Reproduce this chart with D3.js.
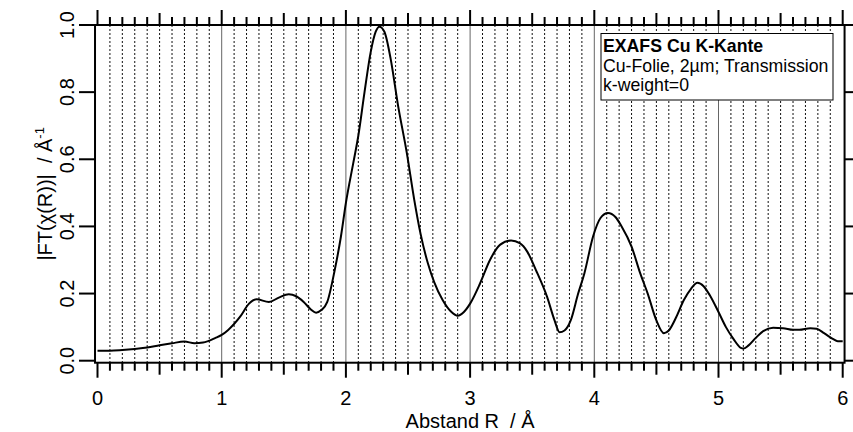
<!DOCTYPE html>
<html>
<head>
<meta charset="utf-8">
<script src="https://cdn.jsdelivr.net/npm/d3@7"></script>
<style>
  body { margin: 0; background: #fff; }
  text { font-family: "Liberation Sans", Arial, sans-serif; fill: #000; white-space: pre; }
</style>
</head>
<body>
<svg id="chart" width="853" height="432"></svg>
<script>
// Abstand R (Å) and |FT(chi(R))|
const rValues = [0.00, 0.10, 0.20, 0.30, 0.40, 0.50, 0.60, 0.70, 0.78, 0.85, 0.95, 1.00, 1.05, 1.15, 1.22,
  1.28, 1.38, 1.46, 1.54, 1.60, 1.66, 1.72, 1.76, 1.80, 1.85, 1.91, 1.96, 2.00, 2.06, 2.10, 2.15, 2.20,
  2.24, 2.27, 2.31, 2.36, 2.42, 2.49, 2.55, 2.60, 2.66, 2.71, 2.78, 2.85, 2.90, 2.95, 3.00, 3.08, 3.16,
  3.24, 3.33, 3.40, 3.46, 3.53, 3.62, 3.68, 3.72, 3.76, 3.81, 3.87, 3.92, 3.99, 4.05, 4.11, 4.17, 4.22,
  4.30, 4.37, 4.43, 4.50, 4.56, 4.60, 4.66, 4.72, 4.78, 4.83, 4.88, 4.93, 5.00, 5.06, 5.12, 5.18, 5.20,
  5.24, 5.30, 5.36, 5.44, 5.52, 5.60, 5.65, 5.74, 5.79, 5.85, 5.92, 5.96, 6.00];
const ftValues = [0.030, 0.030, 0.032, 0.035, 0.039, 0.046, 0.052, 0.057, 0.052, 0.054, 0.068, 0.077, 0.091, 0.132, 0.170,
  0.183, 0.175, 0.188, 0.198, 0.192, 0.175, 0.152, 0.143, 0.150, 0.175, 0.27, 0.37, 0.47, 0.59, 0.67, 0.80, 0.92,
  0.98, 0.995, 0.98, 0.90, 0.76, 0.62, 0.48, 0.38, 0.29, 0.235, 0.18, 0.145, 0.134, 0.145, 0.170, 0.23, 0.30,
  0.345, 0.358, 0.35, 0.325, 0.27, 0.19, 0.12, 0.085, 0.09, 0.12, 0.20, 0.26, 0.37, 0.425, 0.440, 0.428, 0.40,
  0.34, 0.26, 0.20, 0.12, 0.082, 0.09, 0.13, 0.18, 0.215, 0.232, 0.222, 0.195, 0.145, 0.10, 0.065, 0.038, 0.036,
  0.045, 0.068, 0.088, 0.098, 0.097, 0.092, 0.092, 0.097, 0.095, 0.082, 0.065, 0.058, 0.058];

const xTickValues = [0, 1, 2, 3, 4, 5, 6];
const yTickValues = [0, 0.2, 0.4, 0.6, 0.8, 1.0];
const legendLines = ["EXAFS Cu K-Kante", "Cu-Folie, 2µm; Transmission", "k-weight=0"];

const svg = d3.select("#chart");

const x = d3.scaleLinear().domain([0, 6]).range([97.5, 842.7]);
const y = d3.scaleLinear().domain([0, 1]).range([360.7, 25]);

// frame edges, slightly outside the data range like the original
const plotLeft = x(-0.02), plotRight = x(6.015), plotTop = y(1), plotBottom = y(-0.006);

// minor positions every 0.1
const minorX = d3.range(1, 60).map(i => i / 10);
const isMajor = d => Math.round(d * 10) % 10 === 0;

// vertical grid
svg.append("g")
  .selectAll("line")
  .data(minorX)
  .join("line")
  .attr("x1", d => x(d)).attr("x2", d => x(d))
  .attr("y1", plotTop).attr("y2", plotBottom)
  .attr("stroke", d => isMajor(d) ? "#666" : "#111")
  .attr("stroke-width", 1)
  .attr("stroke-dasharray", d => isMajor(d) ? null : "2,2");

// curve
const line = d3.line()
  .x((d, i) => x(rValues[i]))
  .y(d => y(d))
  .curve(d3.curveMonotoneX);

svg.append("path")
  .datum(ftValues)
  .attr("d", line)
  .attr("fill", "none")
  .attr("stroke", "#000")
  .attr("stroke-width", 2);

// legend box
const legend = svg.append("g");
legend.append("rect")
  .attr("x", 601).attr("y", 33.5)
  .attr("width", 232).attr("height", 66.5)
  .attr("fill", "#fff").attr("stroke", "#000").attr("stroke-width", 1);
legend.selectAll("text")
  .data(legendLines)
  .join("text")
  .attr("x", 603)
  .attr("y", (d, i) => 52 + i * 19.5)
  .style("font-size", "17.7px")
  .style("font-weight", (d, i) => i === 0 ? "bold" : "normal")
  .text(d => d);

// frame
const frame = svg.append("g").attr("stroke", "#000").attr("stroke-width", 2).attr("fill", "none");
frame.append("rect")
  .attr("x", plotLeft).attr("y", plotTop)
  .attr("width", plotRight - plotLeft).attr("height", plotBottom - plotTop);

// x ticks (bottom outward, top outward)
const tickLen = d => {
  const t = Math.round(d * 10);
  return t % 10 === 0 ? 15 : (t % 5 === 0 ? 12 : 8);
};
const allX = d3.range(0, 61).map(i => i / 10);
frame.append("g").selectAll("line")
  .data(allX).join("line")
  .attr("x1", d => x(d)).attr("x2", d => x(d))
  .attr("y1", plotBottom).attr("y2", d => plotBottom + tickLen(d));
frame.append("g").selectAll("line")
  .data(allX).join("line")
  .attr("x1", d => x(d)).attr("x2", d => x(d))
  .attr("y1", plotTop).attr("y2", d => plotTop - tickLen(d));

// y ticks: left long, right short
frame.append("g").selectAll("line")
  .data(yTickValues).join("line")
  .attr("x1", plotLeft).attr("x2", plotLeft - 16)
  .attr("y1", d => y(d)).attr("y2", d => y(d));
frame.append("g").selectAll("line")
  .data(yTickValues).join("line")
  .attr("x1", plotRight).attr("x2", plotRight + 9)
  .attr("y1", d => y(d)).attr("y2", d => y(d));

// tick labels
svg.append("g").selectAll("text")
  .data(xTickValues).join("text")
  .attr("x", d => x(d)).attr("y", 405)
  .attr("text-anchor", "middle")
  .style("font-size", "20px")
  .text(d => d);

svg.append("g").selectAll("text")
  .data(yTickValues).join("text")
  .attr("transform", d => `translate(74,${y(d)}) rotate(-90)`)
  .attr("text-anchor", "middle")
  .style("font-size", "20px")
  .text(d => d3.format(".1f")(d));

// axis titles
svg.append("text")
  .attr("x", (x(0) + x(6)) / 2).attr("y", 428)
  .attr("text-anchor", "middle")
  .style("font-size", "20px")
  .text("Abstand R  / Å");

const yTitle = svg.append("text")
  .attr("transform", `translate(52,${(plotTop + plotBottom) / 2}) rotate(-90)`)
  .attr("text-anchor", "middle")
  .style("font-size", "20px");
yTitle.append("tspan").text("|FT(χ(R))|  / Å");
yTitle.append("tspan").attr("dy", -8).style("font-size", "13px").text("-1");
</script>
</body>
</html>
